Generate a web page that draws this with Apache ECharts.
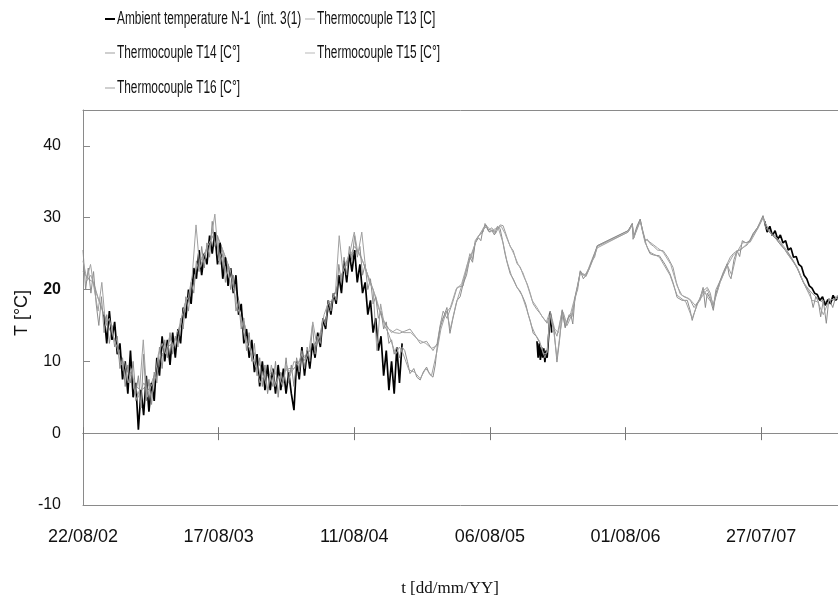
<!DOCTYPE html>
<html>
<head>
<meta charset="utf-8">
<script src="https://cdn.jsdelivr.net/npm/echarts@6/dist/echarts.min.js"></script>
<style>
html,body{margin:0;padding:0;background:#fff;}
#chart{width:838px;height:604px;}
</style>
</head>
<body>
<div id="chart"></div>
<script>
// ---- tick labels (x axis: days since 22/08/02, one tick every 360 days) ----
const tickLabels = ['22/08/02', '17/08/03', '11/08/04', '06/08/05', '01/08/06', '27/07/07'];
const tickStepDays = 360;
const xMaxDays = 2004;
const yMin = -10, yMax = 45, yStep = 10;

const seriesNames = [
  'Ambient temperature N-1  (int. 3(1)',
  'Thermocouple T13 [C]',
  'Thermocouple T14 [C°]',
  'Thermocouple T15 [C°]',
  'Thermocouple T16 [C°]'
];

// ---- Ambient temperature (black) ----
// segment A: sampled every 7 days from day 56
const ambientAStart = 56, ambientAStep = 7;
const ambientA = [16.5,12.5,17,13,15.5,11,12.5,7.5,10,5.5,11.5,5,7,0.5,6,2.5,8,3,7,4.5,
  10.5,8,13.5,10,13,9.5,14,10.5,14.5,12.5,17.5,16,20,18,23,21.5,25.5,22,25,23.5,
  27.5,25,28,23.5,26.5,21.5,24.5,20.5,23,19.5,22,16.5,18,12.5,14.5,10.5,13,8.5,11,6.5,
  10,6,9.5,6,9,5.5,9.5,6,9,5.5,8.5,5.5,3.2,10,7.5,12,8,11.5,9,12.5,
  10.5,14,12,16,14.5,18.5,16.5,19.5,18,22,19.5,24,21,25,22.5,25.5,21,23.5,19.5,21,
  16.5,18.5,14,16,11.5,13.5,8,11.5,6,10,5.5,12,7,12.5];
// segment B: [day, value]
const ambientB = [[1205,12.8],[1208,10.5],[1211,12.5],[1214,10.2],[1217,12],[1220,10.5],[1223,11.8],
  [1226,9.9],[1229,11.5],[1232,10.5],[1236,13.5],[1240,16.8],[1244,14]];
// segment C: sampled every 7 days from day 1809
const ambientCStart = 1809, ambientCStep = 7;
const ambientC = [29.5,28,28.8,27.5,28.2,27,27.6,26.5,26.8,25.5,25.8,24.5,24.6,23.5,23.2,22,21.5,20.5,
  20.2,19.5,19.3,18.5,19,17.8,18.6,18,19.2,18.5,19];

// ---- Thermocouple T13 ----
const t13NoisyStart = 0, t13NoisyStep = 7;
const t13Noisy = [25.5,20,23,19.5,22.5,18,15,19,14,16.5,12.5,15,12,13.5,9,10.5,6.5,9.5,7,10,
  5.5,8,3.5,11,4.5,7.5,4,8.5,7,12,9,13,10.5,14,11,13.5,12,16,14.5,19,
  17,21,19.5,24,22.5,26,23,26.5,24.5,29.5,26,27.5,23.5,25,21,23.5,20,22,17,18.5,
  14.5,16,11.5,14,10,12.5,8,10.5,6.5,9.5,5.5,8,6.5,10,5,8.5,7,10.5,7,9.5,
  6.5,10.5,8.5,11.5,9,12,10,15,11,13.5,12.5,16,15,18.5,17,19.5,18.5,23.5,21,24.5,
  22,26,24,27.5,24.5,26,22,23.5,20,21.5,18,19,16,17,14.5,15.5,12.5,13,11,12,
  10.5,12];
const t13Smooth = [[854,11.5],[861,10],[868,8.3],[878,9],[886,7.8],[895,7.4],[903,8.5],[912,9.2],[920,8.2],[929,7.8],
  [935,9.5],[940,12],[948,14.7],[956,16],[966,17.5],[974,13.9],[982,16],[993,18.5],[1001,19],[1009,20.8],
  [1018,22],[1027,24.5],[1034,23.8],[1041,26.5],[1050,27.2],[1056,26.8],[1062,28.5],[1070,29],[1078,28],[1085,28.3],
  [1092,27.6],[1100,28.8],[1107,28.5],[1113,27],[1120,25],[1127,23.5],[1134,22.2],[1142,21.5],[1152,20.3],[1160,19.8],
  [1168,18.9],[1175,18],[1181,16.7],[1188,15.5],[1195,13.9],[1203,13.5],[1213,12.5],[1220,11.5],[1226,10.5],[1232,11.5],
  [1240,17],[1245,15.5],[1250,14.5],[1258,9.9],[1265,13],[1272,17.1],[1280,14.7],[1287,16],[1295,16.5],[1300,15.2],
  [1306,18.9],[1313,20.5],[1320,22.6],[1328,21.5],[1335,22],[1343,22.8],[1351,24],[1358,25],[1365,26.1],[1447,28.2],
  [1458,29.2],[1460,27],[1470,28.8],[1479,29.8],[1485,28.2],[1492,26.8],[1498,25.8],[1505,25],[1515,24.8],[1530,24.7],
  [1545,23.5],[1558,22.2],[1566,21],[1577,18.9],[1590,18.5],[1604,18.5],[1612,17],[1617,15.7],[1623,16.8],[1630,18],
  [1638,18.8],[1646,20.3],[1652,17.5],[1657,19.5],[1664,18.8],[1673,17.1],[1680,19.5],[1691,21.2],[1700,22.3],[1710,23.6],
  [1715,22],[1720,21.5],[1728,24.2],[1736,25.4],[1743,24.6],[1750,26.8],[1760,26.5],[1771,26.8],[1779,27.8],[1790,28.6],
  [1798,29.5],[1805,30.3],[1812,28.6],[1825,27.8],[1840,27],[1855,26],[1870,25.2],[1885,24],[1900,22.5],[1912,21],
  [1922,20],[1930,19.5],[1938,17.5],[1945,19],[1952,18.3],[1958,16.2],[1965,18.5],[1973,15.3],[1980,18.8],[1990,17.5],
  [1997,18.8],[2004,19]];

// ---- Thermocouple T14 ----
const t14NoisyStart = 0, t14NoisyStep = 10;
const t14Noisy = [24,21.5,23.5,20,17,21,15,16,13.5,12,9.5,10,7,9,4.5,6,13,5,6.5,7.5,
  11,12.5,11,13.5,12,14,15.5,18,19,22,29,23,24.5,26,27,30.5,24,25.5,22,23,
  20,17.5,16,13,12,10.5,9,7,8,6,9.5,6.5,8,6.5,9.5,8,10,9.5,11,10,
  11.5,15.5,12.5,14,16.5,18,18.5,19.5,27.5,22.5,24,25.5,28,25,28,23,21,20,11.5,18,
  15,14,12.5,11,12];
const t14Smooth = [[850,11],[865,8.8],[880,8.5],[895,7.6],[910,9],[925,8],[940,11.5],[950,14.5],[965,17],[975,14.5],
  [990,18],[1005,20.5],[1020,23],[1030,24.8],[1045,27],[1060,28.3],[1072,28.8],[1088,28],[1102,28.6],[1115,26.5],
  [1125,24],[1138,21.8],[1150,20.5],[1165,19.2],[1178,17.2],[1190,15],[1200,13.8],[1212,12.8],[1222,11],[1232,11.2],
  [1240,16.5],[1250,14],[1258,10.5],[1268,14.5],[1275,16.8],[1285,15],[1295,16.2],[1306,18.6],[1320,22.3],[1335,21.8],
  [1351,23.8],[1365,25.8],[1447,28],[1458,29],[1462,27.2],[1479,29.5],[1492,26.5],[1505,25.2],[1530,24.5],[1558,22],
  [1577,19.2],[1600,18.3],[1617,16],[1630,17.8],[1646,20],[1657,19],[1673,17.8],[1691,21],[1710,23.4],[1722,22],
  [1736,25.2],[1750,26.5],[1771,26.6],[1790,28.4],[1805,30],[1820,28.2],[1845,27],[1870,25],[1896,23],[1915,20.7],
  [1935,18.5],[1950,18.3],[1965,16.5],[1980,18.5],[2004,18.8]];

// ---- Thermocouple T15 ----
const t15NoisyStart = 0, t15NoisyStep = 14;
const t15Noisy = [22.5,21.5,21,18.5,16.5,14.5,13,11,9,8.5,6.5,6,6.5,7,9,11,12,12.5,14,16,
  18.5,21,23.5,25,26.5,28,26.5,24.5,22.5,20,17,14,12,10,9,8,8.5,8,8.5,9,
  9,10,10.5,11.5,12.5,14,16,18,20,22,23.5,25,25.5,24,22,20,17.5,15.5,14.5,14,
  13.9];
const t15Smooth = [[854,14.2],[868,14.5],[882,13.5],[895,12.5],[912,12.8],[929,11.5],[940,12.5],[948,15],[956,17],[966,16],
  [980,18],[993,20.3],[1009,20.5],[1018,23],[1027,25],[1034,24.2],[1041,26.8],[1050,27.5],[1062,28],[1067,29.2],
  [1075,28.2],[1085,28.6],[1095,27.8],[1107,29],[1115,28.9],[1126,27.2],[1134,26],[1142,25.4],[1152,23.6],[1160,23.2],
  [1170,21.8],[1179,20.8],[1187,19.5],[1195,18],[1205,17.2],[1213,16.7],[1222,16],[1232,15.3],[1240,16.8],[1250,14.5],
  [1258,13.5],[1266,15.5],[1272,17],[1280,14.7],[1290,16.5],[1298,16.2],[1306,18.9],[1313,20],[1320,22.6],[1328,22],
  [1335,22.2],[1343,23],[1351,24],[1358,24.5],[1365,26.1],[1447,28.2],[1458,29.2],[1462,27.2],[1470,28.5],[1479,29.8],
  [1486,28],[1492,26.8],[1498,27],[1505,26.4],[1515,26],[1525,25.5],[1540,25.4],[1552,24.5],[1566,23.1],[1575,21],
  [1585,19.4],[1595,19],[1604,18.8],[1612,18.5],[1622,17.5],[1630,18],[1638,18.5],[1646,19.8],[1657,20.3],[1665,19.5],
  [1673,17.5],[1680,20],[1691,21.2],[1700,22.5],[1710,23.6],[1718,24.5],[1726,25],[1736,25.4],[1745,25.5],[1755,26],
  [1763,26.4],[1771,27],[1779,27.8],[1790,28.6],[1798,29.3],[1805,30.2],[1812,29],[1822,28],[1835,27.5],[1848,26.5],
  [1860,25.8],[1872,24.8],[1884,24],[1896,23],[1905,21.8],[1915,20.8],[1925,20],[1935,19.5],[1945,19],[1955,18.5],
  [1965,18.2],[1975,18],[1990,18.5],[2004,19]];

// ---- Thermocouple T16 ----
const t16NoisyStart = 7, t16NoisyStep = 14;
const t16Noisy = [21,22,19.5,17.5,15,14,12,10,8.5,7.5,5,7,6,8,10,11.5,13,13,15,17.5,
  20,22.5,24.5,25.5,28,27.5,25.5,23.5,21.5,18.5,15.5,13,11,9.5,8.5,8,8.5,8,9,8.5,
  9.5,10.5,11,12,13,15,17,19,21,23,24.5,26,25,23,21,19,16.5,15,14,14.5];
const t16Smooth = [[852,14],[870,14],[890,13],[910,12.5],[925,11.8],[940,12.2],[950,15.5],[960,16.5],[975,17.5],[990,20],
  [1005,20.8],[1020,23.5],[1030,24.5],[1045,27],[1060,28.2],[1070,28.8],[1080,28],[1095,28.5],[1110,28.8],[1120,27.8],
  [1130,26.5],[1145,24.8],[1155,23.5],[1168,22.3],[1180,20.5],[1192,18.5],[1205,17.5],[1218,16.3],[1230,15.5],[1240,17],
  [1252,14.5],[1262,14],[1272,17.2],[1282,15],[1295,16.8],[1306,19],[1320,22.4],[1335,22],[1351,24.2],[1365,26],
  [1447,28],[1458,29],[1463,27.5],[1479,29.6],[1492,27],[1505,26.6],[1525,25.8],[1540,25.2],[1560,23.5],[1577,20.5],
  [1590,19.2],[1610,18.7],[1625,17.8],[1640,18.8],[1657,20],[1673,18],[1691,21],[1710,23.3],[1726,24.8],[1745,25.6],
  [1763,26.2],[1779,27.6],[1790,28.4],[1805,30],[1820,28.3],[1843,27.2],[1869,25.4],[1896,23.1],[1912,21],[1930,19.8],
  [1949,18.8],[1975,18.2],[2004,19.2]];

// ---------- build ----------
function sampled(start, step, vals) { return vals.map((v, i) => [start + step * i, v]); }
const GAP = '-';
const ambientData = sampled(ambientAStart, ambientAStep, ambientA)
  .concat([[900, GAP]], ambientB, [[1500, GAP]], sampled(ambientCStart, ambientCStep, ambientC));
const t13Data = sampled(t13NoisyStart, t13NoisyStep, t13Noisy).concat(t13Smooth);
const t14Data = sampled(t14NoisyStart, t14NoisyStep, t14Noisy).concat(t14Smooth);
const t15Data = sampled(t15NoisyStart, t15NoisyStep, t15Noisy).concat(t15Smooth);
const t16Data = sampled(t16NoisyStart, t16NoisyStep, t16Noisy).concat(t16Smooth);

const FONT = '"Liberation Sans", Arial, sans-serif';
const AXIS_COLOR = '#8a8a8a';

function lineSeries(name, data, color, width, z) {
  return {
    name: name, type: 'line', data: data, xAxisIndex: 0, yAxisIndex: 0,
    showSymbol: false, symbol: 'none', connectNulls: false, z: z,
    lineStyle: { color: color, width: width }, itemStyle: { color: color },
    emphasis: { disabled: true }, silent: true
  };
}

// legend layout (icon left edge, row centre) and icon colours
const legendPos = [
  { left: 105, cy: 19, icon: '#000' },
  { left: 305, cy: 19, icon: '#d8d8d8' },
  { left: 105, cy: 53, icon: '#cfcfcf' },
  { left: 305, cy: 53, icon: '#dcdcdc' },
  { left: 105, cy: 88, icon: '#cfcfcf' }
];
const LEGEND_SCALE_X = 0.66;

const xBase = { type: 'value', min: 0, max: xMaxDays, interval: tickStepDays, gridIndex: 0,
  splitLine: { show: false }, axisLabel: { show: false }, axisTick: { show: false } };

const legendTexts = seriesNames.map((n, i) => ({
  type: 'text', x: legendPos[i].left + 12, y: legendPos[i].cy, scaleX: LEGEND_SCALE_X, scaleY: 1,
  style: { text: n, x: 0, y: 0, align: 'left', verticalAlign: 'middle',
    font: '18px "Liberation Sans", Arial, sans-serif', fill: '#111' }
}));

const option = {
  animation: false,
  backgroundColor: '#fff',
  grid: { left: 83, top: 110, right: 0, bottom: 99, containLabel: false },
  legend: seriesNames.map((n, i) => ({
    data: [{ name: n, itemStyle: { color: legendPos[i].icon }, lineStyle: { color: legendPos[i].icon, width: 2 } }],
    left: legendPos[i].left, top: legendPos[i].cy - 1, orient: 'horizontal',
    icon: 'rect', itemWidth: 10, itemHeight: 2, itemGap: 0, padding: 0,
    selectedMode: false,
    formatter: function () { return ''; },
    textStyle: { fontSize: 1, color: 'rgba(0,0,0,0)' }
  })),
  xAxis: [
    Object.assign({}, xBase, {
      position: 'bottom',
      axisLine: { show: true, onZero: false, lineStyle: { color: AXIS_COLOR, width: 1 } },
      axisLabel: {
        show: true, margin: 23, color: '#111', fontFamily: FONT, fontSize: 18, showMaxLabel: false,
        formatter: function (v) {
          if (v % tickStepDays !== 0) return '';
          const k = Math.round(v / tickStepDays);
          return tickLabels[k] || '';
        }
      }
    }),
    Object.assign({}, xBase, {
      position: 'bottom',
      axisLine: { show: true, onZero: true, onZeroAxisIndex: 0, lineStyle: { color: AXIS_COLOR, width: 1 } },
      axisTick: { show: true, inside: false, length: 7, lineStyle: { color: '#777' } }
    }),
    Object.assign({}, xBase, {
      position: 'top',
      axisLine: { show: true, onZero: true, onZeroAxisIndex: 0, lineStyle: { color: AXIS_COLOR, width: 1 } },
      axisTick: { show: true, inside: false, length: 6, lineStyle: { color: '#777' } }
    }),
    Object.assign({}, xBase, {
      position: 'top',
      axisLine: { show: true, onZero: false, lineStyle: { color: AXIS_COLOR, width: 1 } }
    })
  ],
  yAxis: [{
    type: 'value', min: yMin, max: yMax, interval: yStep, position: 'left',
    splitLine: { show: false },
    axisLine: { show: true, onZero: false, lineStyle: { color: AXIS_COLOR, width: 1 } },
    axisTick: { show: true, inside: true, length: 7, lineStyle: { color: '#888' } },
    axisLabel: {
      margin: 22, color: '#111', fontFamily: FONT, fontSize: 16, showMaxLabel: false,
      formatter: function (v) {
        if (v === 20) return '{b|20}';
        if ((v - yMin) % yStep !== 0) return '';
        return String(v);
      },
      rich: { b: { fontWeight: 'bold', fontFamily: FONT, fontSize: 16, color: '#111' } }
    }
  }],
  series: [
    lineSeries(seriesNames[3], t15Data, '#9a9a9a', 1, 2),
    lineSeries(seriesNames[4], t16Data, '#a6a6a6', 1, 2),
    lineSeries(seriesNames[0], ambientData, '#000000', 1.7, 3),
    lineSeries(seriesNames[1], t13Data, '#8c8c8c', 1, 4),
    lineSeries(seriesNames[2], t14Data, '#a0a0a0', 1, 4)
  ],
  graphic: legendTexts.concat([
    {
      type: 'text', x: 22, y: 313, rotation: Math.PI / 2,
      style: { text: 'T [°C]', x: 0, y: 0, align: 'center', verticalAlign: 'middle',
        font: '18px "Liberation Sans", Arial, sans-serif', fill: '#111' }
    },
    {
      type: 'text', x: 450, y: 589,
      style: { text: 't [dd/mm/YY]', x: 0, y: 0, align: 'center', verticalAlign: 'middle',
        font: '17px "Liberation Serif", "Times New Roman", serif', fill: '#111' }
    }
  ])
};

const chart = echarts.init(document.getElementById('chart'), null, { renderer: 'canvas' });
chart.setOption(option);
</script>
</body>
</html>
